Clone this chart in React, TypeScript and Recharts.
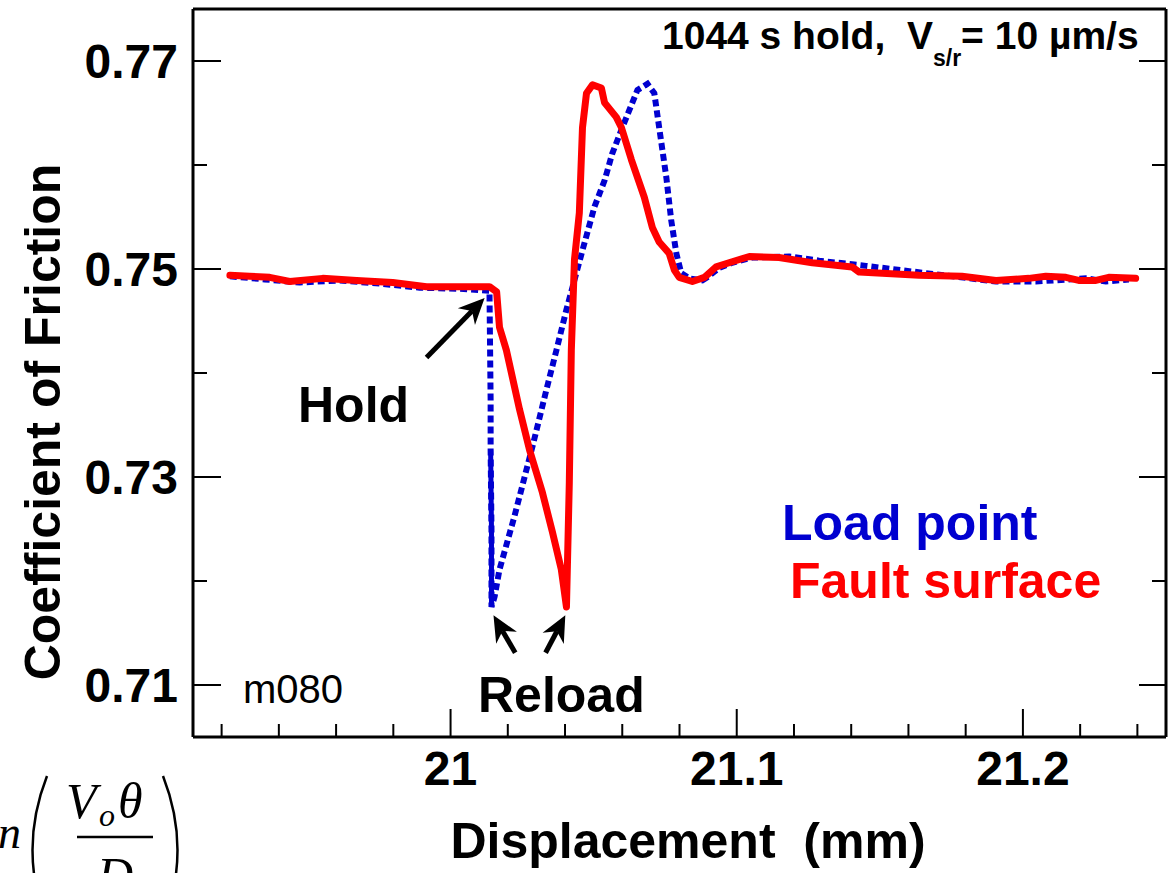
import { LineChart, Line, XAxis, YAxis, ReferenceLine } from 'recharts'

const FONT = '"Liberation Sans", Arial, Helvetica, sans-serif'
const SERIF = '"Liberation Serif", "Times New Roman", serif'
const BLUE = '#0000d0'
const RED = '#ff0000'

// fault surface (red, solid)
const FAULT_X = [
  20.9229, 20.9298, 20.9368, 20.9438, 20.9553, 20.9672, 20.9798, 20.9916, 21.0056, 21.0136,
  21.0161, 21.0171, 21.0195, 21.0241, 21.0276, 21.0321, 21.0356, 21.0387, 21.0405, 21.0415,
  21.0422, 21.0433, 21.045, 21.0461, 21.0475, 21.0496, 21.0527, 21.0538, 21.0579, 21.0597,
  21.0632, 21.0677, 21.0705, 21.0729, 21.0764, 21.0782, 21.0799, 21.0845, 21.0887, 21.0928,
  21.0984, 21.1044, 21.1148, 21.1264, 21.1403, 21.1428, 21.1637, 21.1787, 21.1906, 21.2021,
  21.208, 21.215, 21.2195, 21.2255, 21.23, 21.2394,
]
const FAULT_MU = [
  0.7494, 0.7493, 0.7492, 0.7488, 0.7491, 0.7489, 0.7487, 0.7483, 0.7483, 0.7483,
  0.7478, 0.7444, 0.7422, 0.7365, 0.7326, 0.7285, 0.7247, 0.7211, 0.7175, 0.7295,
  0.7422, 0.7509, 0.7554, 0.7636, 0.7669, 0.7677, 0.7674, 0.766, 0.7646, 0.7636,
  0.7605, 0.7569, 0.754, 0.7526, 0.7515, 0.7499, 0.7492, 0.7488, 0.7492, 0.7502,
  0.7507, 0.7512, 0.7511, 0.7506, 0.7502, 0.7497, 0.7494, 0.7493, 0.7489, 0.7491,
  0.7493, 0.7492, 0.7489, 0.7489, 0.7492, 0.7491,
]

// load point (blue, dotted)
const LOAD_X = [
  20.9229, 20.9351, 20.9473, 20.9613, 20.9752, 20.9892, 21.0031, 21.0136,
  21.014, 21.014, 21.0143, 21.0143,
  21.0154, 21.0171, 21.0223, 21.0286, 21.0335, 21.037, 21.0405, 21.0461,
  21.0503, 21.0538, 21.0565, 21.06, 21.0625, 21.0653, 21.0688, 21.0712, 21.0729, 21.0754,
  21.0771, 21.0789, 21.0806, 21.0834, 21.088, 21.0897, 21.0939, 21.0984, 21.1054, 21.1183,
  21.1288, 21.1452, 21.1661, 21.1906, 21.2045, 21.222, 21.229, 21.237,
]
const LOAD_MU = [
  0.7493, 0.749, 0.7487, 0.7489, 0.7486, 0.7482, 0.7481, 0.7479,
  0.7374, 0.7326, 0.725, 0.7175,
  0.7185, 0.7211, 0.7262, 0.7329, 0.7384, 0.7422, 0.7461, 0.7518,
  0.756, 0.7585, 0.7611, 0.7636, 0.7653, 0.7672, 0.7678, 0.7669, 0.7636, 0.7588,
  0.7547, 0.7515, 0.7496, 0.7491, 0.7489, 0.7492, 0.7501, 0.7506, 0.7511, 0.7512,
  0.7508, 0.7503, 0.7496, 0.7488, 0.7488, 0.7491, 0.7488, 0.749,
]

const X_TICKS = [
  20.92, 20.94, 20.96, 20.98, 21, 21.02, 21.04, 21.06, 21.08, 21.1,
  21.12, 21.14, 21.16, 21.18, 21.2, 21.22, 21.24,
]
const X_LABELS = [21, 21.1, 21.2]
const Y_TICKS = [0.71, 0.72, 0.73, 0.74, 0.75, 0.76, 0.77]
const Y_LABELS = [0.71, 0.73, 0.75, 0.77]

// annotation arrows: [tailX, tailMu, tipX, tipMu]
const HOLD_ARROW = [20.9916, 0.7415, 21.0119, 0.7472]
const RELOAD_ARROWS = [
  [21.0226, 0.7131, 21.015, 0.7167],
  [21.0332, 0.7131, 21.0401, 0.7167],
]

const fault = FAULT_X.map((x, i) => ({ x, mu: FAULT_MU[i] }))
const load = LOAD_X.map((x, i) => ({ x, mu: LOAD_MU[i] }))
const loadDrop = load.slice(9, 12)

const isIn = (v: number, list: number[]) => list.some(t => Math.abs(t - v) < 1e-6)

const XTick = (props: any) => {
  const { x, y, payload } = props
  const major = isIn(payload.value, X_LABELS)
  return (
    <g>
      <line x1={x} y1={y} x2={x} y2={y - (major ? 28 : 13)} stroke="#000" strokeWidth={2} />
      {major && (
        <text x={x} y={y + 48} textAnchor="middle" fontFamily={FONT} fontWeight="bold" fontSize={48} fill="#000">
          {String(payload.value)}
        </text>
      )}
    </g>
  )
}

const YTick = (props: any) => {
  const { x, y, payload } = props
  const major = isIn(payload.value, Y_LABELS)
  return (
    <g>
      <line x1={x} y1={y} x2={x + (major ? 28 : 14)} y2={y} stroke="#000" strokeWidth={2} />
      {major && (
        <text x={x - 15} y={y + 17} textAnchor="end" fontFamily={FONT} fontWeight="bold" fontSize={48} fill="#000">
          {payload.value.toFixed(2)}
        </text>
      )}
    </g>
  )
}

const RightTick = (props: any) => {
  const { x, y, payload } = props
  const major = isIn(payload.value, Y_LABELS)
  return <line x1={x} y1={y} x2={x - (major ? 27 : 14)} y2={y} stroke="#000" strokeWidth={2} />
}

// black arrow with a notched head, drawn between the segment ends
const Arrow = (props: any) => {
  const { x1, y1, x2, y2 } = props
  const dx = x2 - x1
  const dy = y2 - y1
  const len = Math.hypot(dx, dy)
  const ux = dx / len
  const uy = dy / len
  const px = -uy
  const py = ux
  const head = 26
  const half = 12
  const bx = x2 - ux * head
  const by = y2 - uy * head
  const nx = x2 - ux * (head - 8)
  const ny = y2 - uy * (head - 8)
  const pts = [
    [x2, y2],
    [bx + px * half, by + py * half],
    [nx, ny],
    [bx - px * half, by - py * half],
  ]
  return (
    <g>
      <line x1={x1} y1={y1} x2={nx} y2={ny} stroke="#000" strokeWidth={5} />
      <polygon points={pts.map(p => p.join(',')).join(' ')} fill="#000" />
    </g>
  )
}

export default function App() {
  const bold = { fontFamily: FONT, fontWeight: 'bold' as const }
  return (
    <div style={{ position: 'absolute', left: 0, top: 0, width: 1174, height: 873, background: '#fff' }}>
      <LineChart width={1174} height={873} margin={{ top: 8, right: 7, bottom: 135, left: 192 }}>
        <XAxis
          dataKey="x"
          type="number"
          domain={[20.91, 21.25]}
          allowDataOverflow
          ticks={X_TICKS}
          interval={0}
          height={1}
          tickSize={0}
          tickMargin={0}
          tickLine={false}
          tick={XTick}
          axisLine={{ stroke: '#000', strokeWidth: 3 }}
        />
        <XAxis
          xAxisId="t"
          orientation="top"
          dataKey="x"
          type="number"
          domain={[20.91, 21.25]}
          allowDataOverflow
          ticks={X_TICKS}
          height={1}
          tick={false}
          tickLine={false}
          axisLine={{ stroke: '#000', strokeWidth: 3 }}
        />
        <YAxis
          dataKey="mu"
          type="number"
          domain={[0.705, 0.775]}
          allowDataOverflow
          ticks={Y_TICKS}
          interval={0}
          width={1}
          tickSize={0}
          tickMargin={0}
          tickLine={false}
          tick={YTick}
          axisLine={{ stroke: '#000', strokeWidth: 3 }}
        />
        <YAxis
          yAxisId="r"
          orientation="right"
          type="number"
          domain={[0.705, 0.775]}
          allowDataOverflow
          ticks={Y_TICKS}
          interval={0}
          width={1}
          tickSize={0}
          tickMargin={0}
          tickLine={false}
          tick={RightTick}
          axisLine={{ stroke: '#000', strokeWidth: 3 }}
        />
        <Line
          data={load}
          dataKey="mu"
          type="linear"
          stroke={BLUE}
          strokeWidth={6}
          strokeDasharray="7 4"
          dot={false}
          activeDot={false}
          isAnimationActive={false}
        />
        <Line
          data={loadDrop}
          dataKey="mu"
          type="linear"
          stroke={BLUE}
          strokeWidth={5}
          dot={false}
          activeDot={false}
          isAnimationActive={false}
        />
        <Line
          data={fault}
          dataKey="mu"
          type="linear"
          stroke={RED}
          strokeWidth={7}
          strokeLinejoin="round"
          strokeLinecap="round"
          dot={false}
          activeDot={false}
          isAnimationActive={false}
        />
        <ReferenceLine
          segment={[{ x: HOLD_ARROW[0], y: HOLD_ARROW[1] }, { x: HOLD_ARROW[2], y: HOLD_ARROW[3] }]}
          shape={Arrow}
          ifOverflow="visible"
        />
        {RELOAD_ARROWS.map((a, i) => (
          <ReferenceLine
            key={i}
            segment={[{ x: a[0], y: a[1] }, { x: a[2], y: a[3] }]}
            shape={Arrow}
            ifOverflow="visible"
          />
        ))}
      </LineChart>

      <svg width={1174} height={873} style={{ position: 'absolute', left: 0, top: 0, pointerEvents: 'none' }}>
        <text x={60} y={422} transform="rotate(-90 60 422)" textAnchor="middle" fontSize={50} {...bold}>
          Coefficient of Friction
        </text>
        <text x={688} y={858} textAnchor="middle" fontSize={50} style={{ whiteSpace: 'pre' }} {...bold}>
          {'Displacement  (mm)'}
        </text>
        <text x={662} y={49} fontSize={39} style={{ whiteSpace: 'pre' }} {...bold}>
          {'1044 s hold,  V'}
          <tspan fontSize={23} dy={17}>s/r</tspan>
          <tspan dy={-17}>{'= 10 \u00b5m/s'}</tspan>
        </text>
        <text x={298} y={422} fontSize={50} {...bold}>Hold</text>
        <text x={478} y={712} fontSize={50} {...bold}>Reload</text>
        <text x={782} y={540} fontSize={50} fill={BLUE} {...bold}>Load point</text>
        <text x={790} y={598} fontSize={50} fill={RED} {...bold}>Fault surface</text>
        <text x={243} y={703} fontSize={40} fontFamily={FONT}>m080</text>

        {/* rate-state term, cut at the page edge */}
        <g fontFamily={SERIF} fontStyle="italic" fill="#000">
          <text x={-2} y={848} fontSize={46}>n</text>
          <path d="M 47 776 Q 18 850 47 924" fill="none" stroke="#000" strokeWidth={2.5} />
          <text x={66} y={818} fontSize={50}>V</text>
          <text x={99} y={826} fontSize={32}>o</text>
          <text x={118} y={818} fontSize={50}>θ</text>
          <line x1={77} y1={837} x2={153} y2={837} stroke="#000" strokeWidth={2.5} />
          <text x={97} y={892} fontSize={50}>D</text>
          <path d="M 163 776 Q 192 850 163 924" fill="none" stroke="#000" strokeWidth={2.5} />
        </g>
      </svg>
    </div>
  )
}
